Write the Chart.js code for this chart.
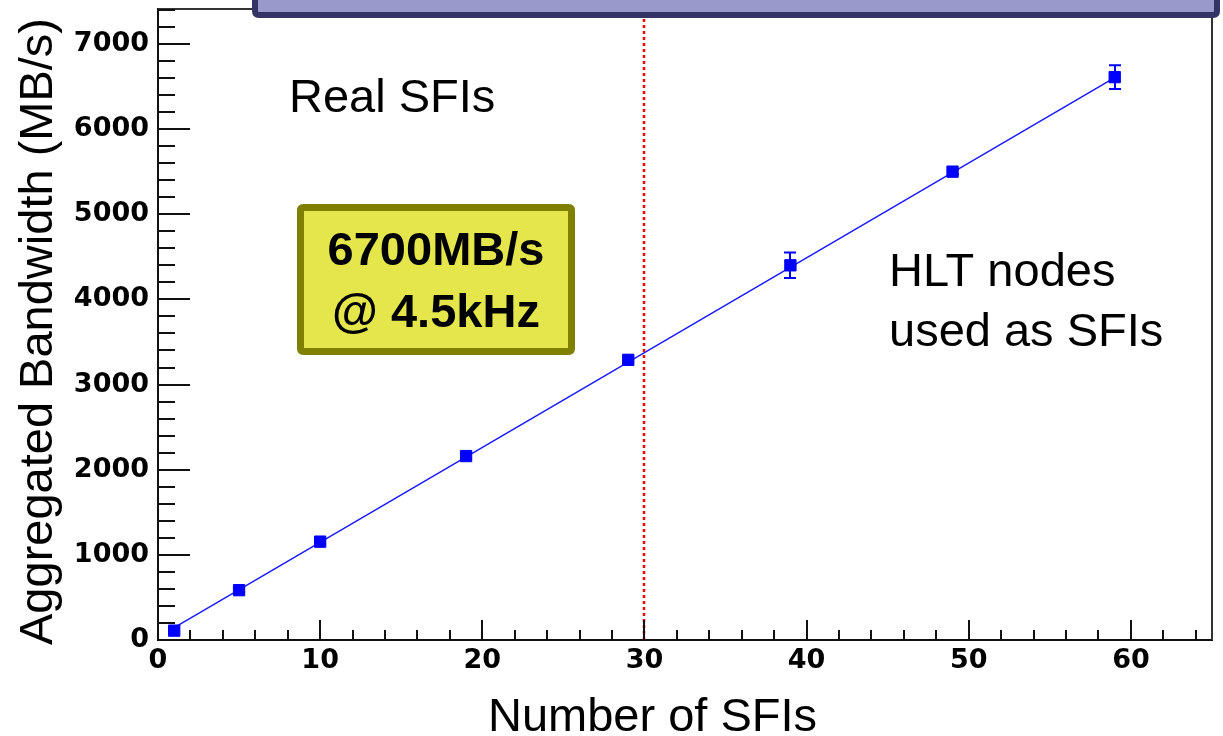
<!DOCTYPE html>
<html>
<head>
<meta charset="utf-8">
<title>Aggregated Bandwidth vs Number of SFIs</title>
<script src="https://cdn.jsdelivr.net/npm/chart.js@4.4.1/dist/chart.umd.min.js"></script>
<style>
  html, body { margin: 0; padding: 0; background: #fff; }
  canvas { display: block; }
</style>
</head>
<body>
<canvas id="myChart" width="1223" height="736"></canvas>
<script>
// measured points
const sfis = [1, 5, 10, 19, 29, 39, 49, 59];
const bandwidth = [110, 585, 1155, 2160, 3290, 4400, 5500, 6610];
const bandwidthErr = [20, 25, 25, 30, 30, 150, 30, 140];

// straight fit through the points
const fitX = [1, 59];
const fitY = [145, 6605];

const xTicks = [0, 10, 20, 30, 40, 50, 60];
const yTicks = [0, 1000, 2000, 3000, 4000, 5000, 6000, 7000];
const cutSfis = 30;   // red dotted line: real SFIs | HLT nodes

const textFont = '"Liberation Sans", Arial, sans-serif';

function roundRect(ctx, x, y, w, h, r) {
    ctx.beginPath();
    ctx.moveTo(x + r, y);
    ctx.lineTo(x + w - r, y);
    ctx.quadraticCurveTo(x + w, y, x + w, y + r);
    ctx.lineTo(x + w, y + h - r);
    ctx.quadraticCurveTo(x + w, y + h, x + w - r, y + h);
    ctx.lineTo(x + r, y + h);
    ctx.quadraticCurveTo(x, y + h, x, y + h - r);
    ctx.lineTo(x, y + r);
    ctx.quadraticCurveTo(x, y, x + r, y);
    ctx.closePath();
}

var decor = {
    id: 'decor',
    beforeDatasetsDraw: function(chart) {
        var ctx = chart.ctx, a = chart.chartArea;
        var px = Math.round(chart.scales.x.getPixelForValue(cutSfis));
        ctx.save();
        ctx.strokeStyle = '#ff0000';
        ctx.lineWidth = 2.5;
        ctx.setLineDash([3, 3]);
        ctx.beginPath();
        ctx.moveTo(px, a.bottom);
        ctx.lineTo(px, a.top);
        ctx.stroke();
        ctx.restore();
    },
    afterDatasetsDraw: function(chart) {
        var ctx = chart.ctx, xs = chart.scales.x, ys = chart.scales.y;
        ctx.save();
        ctx.strokeStyle = '#0000ff';
        ctx.lineWidth = 2;
        sfis.forEach(function(v, i) {
            var px = Math.round(xs.getPixelForValue(v));
            var top = ys.getPixelForValue(bandwidth[i] + bandwidthErr[i]);
            var bot = ys.getPixelForValue(bandwidth[i] - bandwidthErr[i]);
            ctx.beginPath();
            ctx.moveTo(px, top); ctx.lineTo(px, bot);
            ctx.moveTo(px - 6, top); ctx.lineTo(px + 6, top);
            ctx.moveTo(px - 6, bot); ctx.lineTo(px + 6, bot);
            ctx.stroke();
        });
        ctx.restore();
    },
    afterDraw: function(chart) {
        var ctx = chart.ctx, a = chart.chartArea, xs = chart.scales.x, ys = chart.scales.y;
        ctx.save();

        // frame top + right
        ctx.strokeStyle = '#333';
        ctx.lineWidth = 2;
        ctx.beginPath();
        ctx.moveTo(a.left, a.top); ctx.lineTo(a.right, a.top); ctx.lineTo(a.right, a.bottom);
        ctx.stroke();

        // inward ticks
        ctx.strokeStyle = '#111';
        ctx.lineWidth = 2;
        ctx.beginPath();
        for (var v = 0; v <= ys.max; v += 200) {
            var py = Math.round(ys.getPixelForValue(v));
            var len = (v % 1000 === 0) ? 32 : 17;
            ctx.moveTo(a.left, py); ctx.lineTo(a.left + len, py);
        }
        for (var u = 0; u <= xs.max; u += 2) {
            var px = Math.round(xs.getPixelForValue(u));
            var l2 = (u % 10 === 0) ? 20 : 10;
            ctx.moveTo(px, a.bottom); ctx.lineTo(px, a.bottom - l2);
        }
        ctx.stroke();

        // title box cut at the top
        ctx.fillStyle = '#9999cc';
        ctx.strokeStyle = '#333366';
        ctx.lineWidth = 6;
        roundRect(ctx, 255, -20, 962, 35, 4);
        ctx.fill();
        ctx.stroke();

        // yellow box
        ctx.fillStyle = '#e5e54c';
        ctx.strokeStyle = '#808000';
        ctx.lineWidth = 7;
        roundRect(ctx, 300.5, 207.5, 271, 144, 3);
        ctx.fill();
        ctx.stroke();

        ctx.fillStyle = '#000';
        ctx.textBaseline = 'alphabetic';
        ctx.font = 'bold 47px ' + textFont;
        ctx.textAlign = 'center';
        ctx.fillText('6700MB/s', 436, 265);
        ctx.fillText('@ 4.5kHz', 436, 327);

        ctx.font = '47px ' + textFont;
        ctx.textAlign = 'left';
        ctx.fillText('Real SFIs', 289, 112);
        ctx.fillText('HLT nodes', 889, 286);
        ctx.fillText('used as SFIs', 889, 346);

        // axis titles
        ctx.fillText('Number of SFIs', 488, 731);
        ctx.translate(52, 645);
        ctx.rotate(-Math.PI / 2);
        ctx.fillText('Aggregated Bandwidth (MB/s)', 0, 0);

        ctx.restore();
    }
};

var tickFont = { family: '"DejaVu Sans", sans-serif', size: 27, weight: 'bold' };

var ctx = document.getElementById('myChart').getContext('2d');
var chart = new Chart(ctx, {
    type: 'scatter',
    data: {
        datasets: [{
            label: 'Aggregated bandwidth',
            data: sfis.map(function(v, i) { return { x: v, y: bandwidth[i] }; }),
            backgroundColor: '#0000ff',
            borderColor: '#0000ff',
            pointStyle: 'rect',
            pointRadius: 8,
            pointHoverRadius: 8,
            showLine: false
        }, {
            label: 'Fit',
            data: fitX.map(function(v, i) { return { x: v, y: fitY[i] }; }),
            borderColor: '#1a1aff',
            borderWidth: 1.5,
            pointRadius: 0,
            showLine: true
        }]
    },
    options: {
        responsive: false,
        animation: false,
        devicePixelRatio: 1,
        layout: { padding: { left: 0, right: 11, top: 4, bottom: 0 } },
        plugins: { legend: { display: false }, tooltip: { enabled: false } },
        scales: {
            x: {
                type: 'linear',
                min: 0,
                max: 65,
                grid: { display: false, drawTicks: false },
                border: { display: true, color: '#111', width: 2 },
                ticks: { font: tickFont, color: '#000', padding: 5, maxRotation: 0,
                         callback: function(v) { return String(v); } },
                afterBuildTicks: function(s) { s.ticks = xTicks.map(function(v) { return { value: v }; }); },
                afterFit: function(s) { s.height = 96; s.paddingLeft = 0; s.paddingRight = 0; }
            },
            y: {
                type: 'linear',
                min: 0,
                max: 7410,
                grid: { display: false, drawTicks: false },
                border: { display: true, color: '#111', width: 2 },
                ticks: { font: tickFont, color: '#000', padding: 9,
                         callback: function(v) { return String(v); } },
                afterBuildTicks: function(s) { s.ticks = yTicks.map(function(v) { return { value: v }; }); },
                afterFit: function(s) { s.width = 158; s.paddingTop = 0; s.paddingBottom = 0; }
            }
        }
    },
    plugins: [decor]
});
</script>
</body>
</html>
